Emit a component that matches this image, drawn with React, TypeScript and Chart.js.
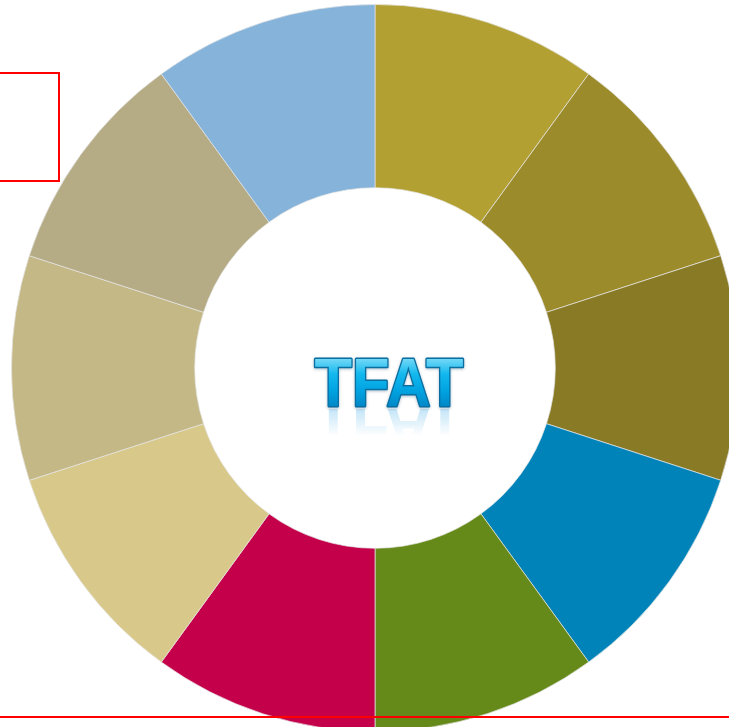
import React, { useEffect, useRef } from "react";
import { Chart, registerables } from "chart.js";

Chart.register(...registerables);

const categories = ["S1", "S2", "S3", "S4", "S5", "S6", "S7", "S8", "S9", "S10"];
const values = [1, 1, 1, 1, 1, 1, 1, 1, 1, 1];
const colors = [
  "#B2A032",
  "#9C8B2B",
  "#897A26",
  "#0083B9",
  "#668A1A",
  "#C4004A",
  "#D8C98A",
  "#C4B886",
  "#B5AC85",
  "#85B3DA",
];
const centerTitle = "TFAT";

const titlePlugin = {
  id: "centerTitle",
  afterDraw(chart: any) {
    const ctx = chart.ctx as CanvasRenderingContext2D;
    const meta = chart.getDatasetMeta(0);
    const arc = meta.data[0] as any;
    const cx = arc.x + 14;
    const baseY = arc.y + 38;
    ctx.save();
    ctx.font = "bold 69px 'Liberation Sans', Arial, sans-serif";
    ctx.textAlign = "center";
    ctx.textBaseline = "alphabetic";
    const capH = 49;
    // reflection
    ctx.save();
    ctx.translate(cx, baseY + 3);
    ctx.scale(0.89, -1);
    const rg = ctx.createLinearGradient(0, 0, 0, -capH);
    rg.addColorStop(0, "rgba(60,170,230,0.30)");
    rg.addColorStop(0.55, "rgba(60,170,230,0.0)");
    rg.addColorStop(1, "rgba(60,170,230,0)");
    ctx.fillStyle = rg;
    ctx.fillText(centerTitle, 0, 0);
    ctx.restore();
    // main text
    ctx.save();
    ctx.translate(cx, baseY);
    ctx.scale(0.89, 1);
    const g = ctx.createLinearGradient(0, -capH, 0, 0);
    g.addColorStop(0, "#7fdcf8");
    g.addColorStop(0.35, "#12b8ee");
    g.addColorStop(0.7, "#00a2e0");
    g.addColorStop(1, "#0088c8");
    ctx.shadowColor = "rgba(0,60,100,0.35)";
    ctx.shadowBlur = 3;
    ctx.shadowOffsetY = 1;
    ctx.lineWidth = 3;
    ctx.strokeStyle = "#0a6fa0";
    ctx.lineJoin = "round";
    ctx.strokeText(centerTitle, 0, 0);
    ctx.shadowColor = "transparent";
    ctx.fillStyle = g;
    ctx.fillText(centerTitle, 0, 0);
    ctx.restore();
    ctx.restore();
  },
};

export default function App() {
  const ref = useRef<HTMLCanvasElement | null>(null);
  useEffect(() => {
    if (!ref.current) return;
    const chart = new Chart(ref.current, {
      type: "doughnut",
      data: {
        labels: categories,
        datasets: [
          {
            data: values,
            backgroundColor: colors,
            borderColor: "rgba(230,230,230,0.7)",
            borderWidth: 1,
          },
        ],
      },
      options: {
        responsive: false,
        animation: false,
        cutout: "49.6%",
        layout: { padding: 0 },
        plugins: {
          legend: { display: false },
          tooltip: { enabled: false },
          title: { display: false },
        },
      },
      plugins: [titlePlugin],
    });
    return () => chart.destroy();
  }, []);

  return (
    <div
      style={{
        position: "fixed",
        left: 0,
        top: 0,
        width: 729,
        height: 727,
        overflow: "hidden",
        background: "#ffffff",
      }}
    >
      <canvas
        ref={ref}
        width={728}
        height={728}
        style={{ position: "absolute", left: 11, top: 4, width: 728, height: 728 }}
      />
      <div
        style={{
          position: "absolute",
          left: -4,
          top: 72,
          width: 60,
          height: 106,
          border: "2px solid #ff0000",
        }}
      />
      <div
        style={{
          position: "absolute",
          left: 0,
          top: 716,
          width: 729,
          height: 2,
          background: "#ff0000",
        }}
      />
    </div>
  );
}
